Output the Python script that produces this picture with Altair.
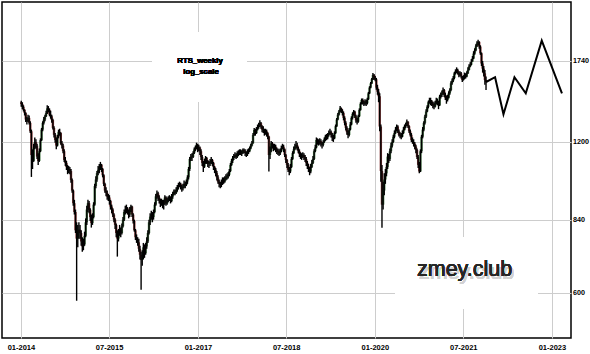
import altair as alt
import pandas as pd

# ---------------- data ----------------
first_open = 1440
start_date = "2014-01-03"

close = [
    # 2014
    1428, 1410, 1390, 1370, 1330, 1320, 1340, 1310, 1260, 1130, 1100, 1170, 1200, 1180, 1122, 1100, 1150, 1210, 1270, 1310, 1330, 1350, 1370, 1400, 1390, 1360,
    1350, 1327, 1280, 1240, 1211, 1180, 1230, 1257, 1250, 1193, 1180, 1150, 1105, 1090, 1070, 1056, 1060, 1050, 1008, 960, 906, 870, 800, 770, 790, 802,
    # 2015
    790, 760, 743, 750, 780, 830, 880, 906, 879, 850, 827, 850, 900, 980, 1010, 1040, 1056, 1070, 1081, 1060, 1030, 990, 960, 950, 934, 930,
    915, 892, 880, 860, 840, 820, 790, 770, 791, 800, 790, 815, 840, 870, 879, 885, 870, 860, 880, 892, 860, 835, 800, 775, 766, 757,
    # 2016
    735, 715, 698, 710, 740, 720, 743, 760, 790, 830, 852, 860, 850, 870, 900, 935, 948, 930, 920, 905, 915, 899, 910, 930, 905, 920, 925,
    930, 915, 934, 945, 955, 950, 962, 975, 980, 990, 975, 970, 978, 990, 985, 1001, 1020, 1060, 1110, 1122, 1120, 1140, 1160, 1170, 1184, 1160,
    # 2017
    1170, 1150, 1120, 1090, 1071, 1095, 1115, 1100, 1085, 1088, 1095, 1105, 1090, 1070, 1056, 1040, 1020, 1000, 990, 985, 995, 1008, 1000, 1010, 1020, 1025,
    1032, 1050, 1080, 1100, 1115, 1125, 1130, 1120, 1139, 1140, 1150, 1145, 1140, 1157, 1150, 1140, 1135, 1147, 1150, 1165, 1180, 1193, 1240, 1268, 1250, 1270,
    # 2018
    1285, 1295, 1308, 1290, 1270, 1268, 1250, 1260, 1249, 1230, 1130, 1150, 1193, 1180, 1165, 1174, 1160, 1150, 1145, 1139, 1150, 1165, 1174, 1160, 1130, 1105,
    1080, 1056, 1048, 1070, 1110, 1140, 1160, 1175, 1184, 1165, 1150, 1135, 1125, 1122, 1130, 1120, 1110, 1090, 1075, 1060, 1048, 1070, 1090, 1110, 1150, 1170,
    # 2019
    1211, 1200, 1195, 1205, 1190, 1184, 1200, 1215, 1230, 1225, 1240, 1250, 1257, 1240, 1225, 1220, 1250, 1290, 1330, 1360, 1380, 1400, 1385, 1370, 1340, 1310,
    1280, 1255, 1239, 1270, 1300, 1340, 1365, 1379, 1350, 1325, 1317, 1350, 1390, 1430, 1455, 1440, 1430, 1445, 1433, 1460, 1500, 1540, 1570, 1600, 1632, 1610,
    # 2020
    1600, 1540, 1511, 1480, 1288, 1050, 900, 960, 1010, 1039, 1070, 1122, 1110, 1150, 1180, 1200, 1229, 1250, 1270, 1288, 1260, 1240, 1235, 1229, 1250, 1270,
    1290, 1300, 1317, 1290, 1260, 1240, 1211, 1200, 1190, 1175, 1157, 1120, 1080, 1048, 1150, 1229, 1270, 1310, 1348, 1380, 1410, 1440, 1455, 1445, 1430, 1420,
    # 2021
    1411, 1433, 1450, 1440, 1420, 1477, 1490, 1500, 1523, 1490, 1470, 1455, 1470, 1500, 1523, 1571, 1590, 1610, 1644, 1660, 1669, 1650, 1630, 1644,
    1620, 1595, 1610, 1632, 1620, 1644, 1670, 1697, 1710, 1734, 1760, 1800, 1826, 1860, 1887, 1900, 1859, 1803, 1720, 1680, 1644, 1595, 1580,
]

high = [
    # 2014
    1450, 1440, 1420, 1395, 1375, 1345, 1360, 1355, 1320, 1270, 1160, 1190, 1225, 1215, 1190, 1140, 1165, 1220, 1280, 1320, 1345, 1360, 1385, 1420, 1415, 1400,
    1385, 1360, 1335, 1290, 1250, 1225, 1240, 1270, 1275, 1255, 1205, 1190, 1160, 1120, 1100, 1080, 1075, 1070, 1060, 1015, 965, 920, 880, 830, 820, 830,
    # 2015
    820, 800, 775, 770, 795, 845, 895, 920, 915, 885, 860, 865, 910, 990, 1025, 1050, 1075, 1085, 1095, 1085, 1065, 1035, 995, 975, 960, 945,
    940, 920, 900, 885, 865, 845, 825, 800, 805, 820, 810, 825, 850, 880, 895, 900, 890, 880, 890, 900, 895, 865, 840, 805, 785, 775,
    # 2016
    770, 745, 725, 730, 755, 750, 755, 775, 800, 840, 865, 875, 870, 880, 910, 945, 960, 955, 940, 925, 925, 920, 920, 940, 935, 930, 935,
    940, 935, 945, 955, 965, 965, 975, 985, 995, 1000, 995, 985, 990, 1005, 1000, 1010, 1030, 1070, 1120, 1135, 1140, 1150, 1170, 1180, 1196, 1190,
    # 2017
    1185, 1175, 1160, 1130, 1100, 1110, 1125, 1120, 1105, 1100, 1110, 1120, 1110, 1095, 1075, 1065, 1050, 1030, 1010, 1000, 1010, 1020, 1020, 1025, 1035, 1040,
    1045, 1060, 1090, 1110, 1125, 1135, 1145, 1140, 1150, 1155, 1160, 1160, 1155, 1165, 1165, 1160, 1150, 1160, 1165, 1175, 1190, 1205, 1250, 1280, 1275, 1285,
    # 2018
    1300, 1310, 1325, 1315, 1295, 1290, 1275, 1275, 1270, 1255, 1235, 1175, 1205, 1200, 1190, 1190, 1185, 1170, 1165, 1160, 1165, 1180, 1190, 1185, 1165, 1135,
    1110, 1090, 1070, 1085, 1120, 1150, 1175, 1190, 1205, 1195, 1175, 1160, 1145, 1140, 1145, 1140, 1130, 1120, 1100, 1085, 1070, 1085, 1105, 1125, 1160, 1185,
    # 2019
    1225, 1220, 1215, 1220, 1215, 1200, 1210, 1225, 1240, 1245, 1250, 1265, 1275, 1265, 1250, 1240, 1260, 1300, 1340, 1370, 1390, 1415, 1405, 1395, 1380, 1350,
    1320, 1290, 1265, 1280, 1315, 1350, 1375, 1390, 1385, 1360, 1340, 1360, 1400, 1440, 1465, 1465, 1450, 1460, 1455, 1470, 1510, 1550, 1580, 1610, 1646, 1640,
    # 2020
    1625, 1610, 1560, 1530, 1500, 1300, 1080, 1000, 1040, 1060, 1090, 1140, 1135, 1165, 1195, 1215, 1240, 1265, 1285, 1300, 1295, 1270, 1255, 1250, 1265, 1285,
    1300, 1310, 1330, 1320, 1295, 1270, 1250, 1225, 1215, 1200, 1185, 1165, 1130, 1095, 1160, 1240, 1285, 1320, 1360, 1395, 1420, 1450, 1470, 1470, 1455, 1445,
    # 2021
    1440, 1450, 1470, 1465, 1450, 1490, 1505, 1520, 1540, 1530, 1505, 1485, 1490, 1515, 1535, 1585, 1605, 1625, 1655, 1675, 1690, 1680, 1660, 1660,
    1655, 1625, 1630, 1650, 1645, 1660, 1690, 1715, 1730, 1755, 1780, 1820, 1845, 1880, 1905, 1919, 1905, 1870, 1810, 1740, 1700, 1670, 1620,
]

low = [
    # 2014
    1410, 1395, 1380, 1355, 1315, 1300, 1315, 1300, 1250, 1022, 1060, 1095, 1160, 1165, 1110, 1080, 1095, 1145, 1205, 1260, 1300, 1320, 1345, 1365, 1375, 1350,
    1335, 1310, 1270, 1225, 1195, 1160, 1175, 1220, 1235, 1185, 1165, 1140, 1095, 1075, 1055, 1035, 1040, 1035, 995, 950, 895, 860, 790, 579, 740, 770,
    # 2015
    770, 745, 725, 730, 745, 775, 820, 870, 865, 835, 810, 820, 845, 895, 970, 1000, 1030, 1040, 1055, 1045, 1020, 980, 950, 935, 920, 915,
    900, 880, 865, 850, 830, 805, 775, 709, 760, 780, 775, 785, 810, 835, 860, 865, 860, 845, 850, 870, 850, 825, 795, 765, 755, 745,
    # 2016
    725, 700, 609, 680, 700, 705, 715, 735, 755, 785, 820, 840, 830, 840, 865, 895, 925, 915, 905, 890, 895, 885, 880, 900, 895, 900, 910,
    915, 905, 910, 925, 940, 940, 945, 955, 965, 975, 965, 955, 960, 970, 970, 980, 990, 1010, 1050, 1100, 1100, 1115, 1135, 1150, 1160, 1145,
    # 2017
    1150, 1130, 1105, 1075, 1045, 1065, 1085, 1085, 1070, 1065, 1075, 1085, 1075, 1055, 1040, 1025, 1005, 990, 975, 970, 975, 985, 990, 995, 1005, 1010,
    1015, 1025, 1045, 1075, 1090, 1105, 1115, 1110, 1115, 1125, 1130, 1130, 1125, 1135, 1140, 1125, 1120, 1125, 1135, 1145, 1160, 1175, 1190, 1235, 1235, 1245,
    # 2018
    1265, 1275, 1285, 1275, 1255, 1250, 1235, 1240, 1230, 1215, 1048, 1110, 1145, 1165, 1150, 1155, 1145, 1135, 1130, 1125, 1130, 1145, 1160, 1145, 1120, 1090,
    1065, 1045, 1030, 1040, 1065, 1105, 1135, 1155, 1165, 1155, 1140, 1120, 1110, 1105, 1115, 1105, 1095, 1075, 1060, 1045, 1030, 1040, 1065, 1085, 1105, 1145,
    # 2019
    1165, 1185, 1180, 1185, 1175, 1165, 1175, 1195, 1205, 1210, 1215, 1230, 1240, 1225, 1205, 1200, 1215, 1245, 1285, 1325, 1355, 1375, 1370, 1355, 1325, 1295,
    1265, 1240, 1220, 1230, 1265, 1295, 1330, 1355, 1340, 1310, 1300, 1310, 1345, 1385, 1425, 1425, 1415, 1420, 1415, 1425, 1455, 1495, 1535, 1565, 1595, 1595,
    # 2020
    1585, 1525, 1490, 1440, 1260, 1000, 809, 880, 940, 990, 1025, 1060, 1090, 1100, 1140, 1170, 1195, 1220, 1245, 1260, 1250, 1230, 1220, 1215, 1225, 1245,
    1265, 1280, 1290, 1280, 1250, 1230, 1200, 1190, 1175, 1160, 1140, 1110, 1065, 1040, 1045, 1140, 1220, 1260, 1300, 1340, 1375, 1400, 1430, 1420, 1415, 1400,
    # 2021
    1395, 1405, 1425, 1420, 1395, 1415, 1465, 1475, 1490, 1475, 1455, 1430, 1445, 1465, 1490, 1515, 1560, 1580, 1600, 1635, 1645, 1635, 1615, 1620,
    1605, 1580, 1590, 1600, 1605, 1615, 1640, 1665, 1690, 1705, 1735, 1755, 1790, 1820, 1855, 1870, 1840, 1790, 1700, 1650, 1620, 1560, 1523,
]

forecast_dates = ["2021-11-19", "2022-01-14", "2022-03-07", "2022-05-14", "2022-07-23", "2022-10-30", "2023-03-04"]
forecast_values = [1580, 1615, 1363, 1615, 1500, 1910, 1500]

y_ticks = [600, 840, 1200, 1740]
x_tick_dates = [(2014, 1), (2015, 7), (2017, 1), (2018, 7), (2020, 1), (2021, 7), (2023, 1)]

# ---------------- table ----------------
n = len(close)
assert len(high) == n and len(low) == n, (len(close), len(high), len(low))
dates = pd.date_range(start_date, periods=n, freq="7D").strftime("%Y-%m-%d")
opens = [first_open] + close[:-1]
df = pd.DataFrame({
    "date": list(dates),
    "open": opens,
    "close": close,
    "high": [max(h, o, c) for h, o, c in zip(high, opens, close)],
    "low": [min(l, o, c) for l, o, c in zip(low, opens, close)],
})
df["dir"] = ["up" if c >= o else "down" for o, c in zip(opens, close)]
fc = pd.DataFrame({"date": forecast_dates, "value": forecast_values})

FONT = "Liberation Sans"
GRID = "#cdcdcd"

x_scale = alt.Scale(type="utc",
                    domain=[alt.DateTime(year=2013, month=9, date=6, utc=True),
                            alt.DateTime(year=2023, month=4, date=29, utc=True)])
y_scale = alt.Scale(type="log", domain=[488, 2281], nice=False, zero=False)

x_axis = alt.Axis(values=[alt.DateTime(year=y, month=m, date=1, utc=True) for y, m in x_tick_dates],
                  format="%m-%Y", title=None, grid=True, gridColor=GRID, gridWidth=1,
                  ticks=False, domain=False, labelFont=FONT, labelFontSize=7.5,
                  labelFontWeight="bold", labelColor="black", labelPadding=5,
                  labelFlush=False, labelOverlap=False)
y_axis = alt.Axis(orient="right", values=y_ticks, format="d", title=None, grid=True,
                  gridColor=GRID, gridWidth=1, ticks=False, domain=False,
                  labelFont=FONT, labelFontSize=7.2, labelFontWeight="bold",
                  labelColor="black", labelPadding=1.5)

base = alt.Chart(df)

wick = base.mark_rule(color="black", strokeWidth=1.4).encode(
    x=alt.X("date:T", scale=x_scale, axis=x_axis),
    y=alt.Y("low:Q", scale=y_scale, axis=y_axis),
    y2="high:Q",
)
body = base.mark_rule(strokeWidth=2.4).encode(
    x=alt.X("date:T", scale=x_scale, axis=x_axis),
    y=alt.Y("open:Q", scale=y_scale, axis=y_axis),
    y2="close:Q",
    color=alt.Color("dir:N", scale=alt.Scale(domain=["up", "down"], range=["#4a7a4a", "#8a3c3c"]), legend=None),
)
line = alt.Chart(fc).mark_line(color="black", strokeWidth=2).encode(
    x=alt.X("date:T", scale=x_scale, axis=x_axis),
    y=alt.Y("value:Q", scale=y_scale, axis=y_axis),
)

box1 = alt.Chart(fc).mark_rect(color="white").encode(
    x=alt.value(150), x2=alt.value(245), y=alt.value(30), y2=alt.value(100))
box2 = alt.Chart(fc).mark_rect(color="white").encode(
    x=alt.value(393), x2=alt.value(536), y=alt.value(235), y2=alt.value(307))

t1 = alt.Chart(fc).mark_text(text="RTS_weekly", font=FONT, fontSize=7.8, fontWeight="bold",
                             color="black", align="center", baseline="middle").encode(
    x=alt.value(198), y=alt.value(59))
t2 = alt.Chart(fc).mark_text(text="log_scale", font=FONT, fontSize=7.8, fontWeight="bold",
                             color="black", align="center", baseline="middle").encode(
    x=alt.value(199), y=alt.value(69.5))
wm_shadow = alt.Chart(fc).mark_text(text="zmey.club", font=FONT, fontSize=21.5, color="#d2d2d2",
                                    align="left", baseline="alphabetic").encode(
    x=alt.value(417), y=alt.value(277))
wm = alt.Chart(fc).mark_text(text="zmey.club", font=FONT, fontSize=21.5, color="#262626",
                             align="left", baseline="alphabetic").encode(
    x=alt.value(415), y=alt.value(274))

chart = alt.layer(box1, box2, body, wick, line, t1, t2, wm_shadow, wm).properties(
    width=569, height=336,
    autosize=alt.AutoSizeParams(type="none"),
    padding={"left": 2, "top": 2, "right": 19, "bottom": 16},
    background="white",
).configure_view(stroke="black", strokeWidth=1.5)

chart.save("out.html", embed_options={"renderer": "svg", "actions": False})
